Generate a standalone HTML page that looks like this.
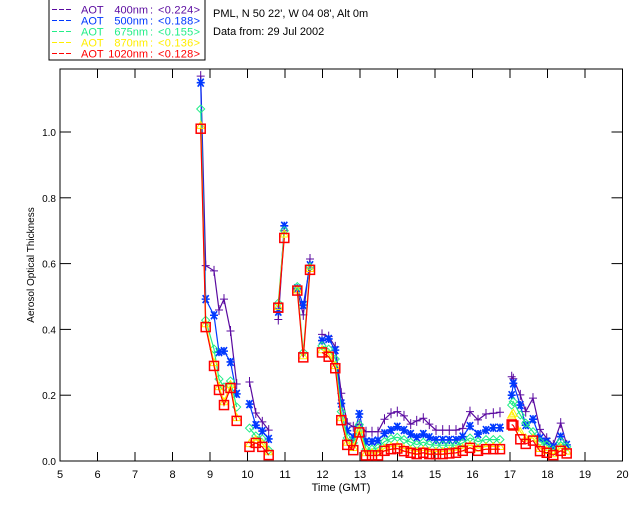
<!DOCTYPE html>
<html><head><meta charset="utf-8"><style>
html,body{margin:0;padding:0;background:#fff;}
svg{display:block;font-family:"Liberation Sans",sans-serif;}
</style></head><body>
<svg id="chart" width="640" height="512" viewBox="0 0 640 512" xmlns="http://www.w3.org/2000/svg">
<rect x="0" y="0" width="640" height="512" fill="#fff"/>
<g id="legend">
  <rect x="49" y="-1" width="156" height="61" fill="none" stroke="#000" stroke-width="1"/>
</g>
<text x="213" y="17" font-size="11">PML, N 50 22', W 04 08', Alt 0m</text>
<text x="213" y="35" font-size="11">Data from: 29 Jul 2002</text>
<g id="axes"></g>
<g id="series"></g>
<text x="341" y="491" font-size="11" text-anchor="middle">Time (GMT)</text>
<text x="0" y="0" font-size="10" text-anchor="middle" transform="translate(34,265) rotate(-90)">Aerosol Optical Thickness</text>
</svg>
<script>
const NS='http://www.w3.org/2000/svg';
const times=[8.752,8.885,9.107,9.24,9.373,9.547,9.712,null,10.053,10.221,10.395,10.565,null,
10.821,10.981,null,11.328,11.488,11.667,null,
11.987,12.165,12.341,12.501,12.661,12.821,12.981,13.16,13.32,13.48,13.653,13.827,13.995,14.173,14.352,14.512,14.688,14.848,15.027,15.205,15.381,15.56,15.739,15.933,16.147,16.36,16.555,16.733,null,
17.045,17.088,17.275,17.419,17.613,17.8,17.979,18.155,18.352,18.512];
const aot400=[1.17,0.594,0.578,0.459,0.492,0.395,0.234,null,0.240,0.146,0.119,0.094,null,
0.43,0.70,null,0.52,0.444,0.614,null,
0.385,0.378,0.347,0.206,0.115,0.104,0.112,0.089,0.089,0.089,0.127,0.145,0.150,0.137,0.112,0.122,0.130,0.112,0.094,0.094,0.094,0.094,0.099,0.150,0.125,0.143,0.145,0.148,null,
0.256,0.25,0.201,0.150,0.191,0.096,0.069,0.049,0.115,0.049];
const aot500=[1.15,0.492,0.443,0.331,0.334,0.301,0.204,null,0.173,0.109,0.091,0.067,null,
0.454,0.715,null,0.525,0.474,0.595,null,
0.366,0.371,0.337,0.175,0.092,0.072,0.143,0.059,0.059,0.062,0.084,0.094,0.104,0.094,0.082,0.072,0.082,0.072,0.064,0.064,0.064,0.064,0.074,0.106,0.082,0.094,0.101,0.101,null,
0.20,0.236,0.170,0.109,0.127,0.069,0.059,0.043,0.074,0.049];
const aot675=[1.07,0.428,0.340,0.249,0.225,0.243,0.164,null,0.100,0.076,0.067,0.033,null,
0.48,0.70,null,0.53,0.33,0.59,null,
0.35,0.34,0.31,0.15,0.07,0.055,0.11,0.036,0.036,0.04,0.059,0.068,0.072,0.065,0.057,0.05,0.057,0.05,0.048,0.048,0.048,0.048,0.055,0.07,0.059,0.065,0.065,0.065,null,
0.17,0.18,0.14,0.115,0.089,0.059,0.049,0.033,0.059,0.043];
const aot870=[1.02,0.417,0.299,0.226,0.180,0.232,0.132,null,0.053,0.065,0.053,0.028,null,
0.47,0.69,null,0.52,0.32,0.585,null,
0.338,0.325,0.29,0.132,0.057,0.041,0.095,0.025,0.025,0.025,0.039,0.044,0.046,0.038,0.033,0.029,0.033,0.029,0.029,0.029,0.031,0.033,0.039,0.048,0.039,0.044,0.044,0.044,null,
0.14,0.145,0.089,0.07,0.07,0.038,0.032,0.022,0.04,0.03];
const aot1020=[1.01,0.407,0.289,0.216,0.170,0.222,0.122,null,0.043,0.055,0.043,0.018,null,
0.466,0.678,null,0.518,0.315,0.581,null,
0.330,0.317,0.282,0.124,0.049,0.033,0.087,0.017,0.017,0.017,0.031,0.036,0.038,0.030,0.025,0.021,0.025,0.021,0.021,0.021,0.023,0.025,0.031,0.040,0.031,0.036,0.036,0.036,null,
0.111,0.108,0.066,0.052,0.062,0.030,0.025,0.018,0.031,0.023];
const xTicks=[5,6,7,8,9,10,11,12,13,14,15,16,17,18,19,20];
const yTicks=[0.0,0.2,0.4,0.6,0.8,1.0];
const yTickLabels=['0.0','0.2','0.4','0.6','0.8','1.0'];
const legendWaves=['400nm','500nm','675nm','870nm','1020nm'];
const legendMeans=['<0.224>','<0.188>','<0.155>','<0.136>','<0.128>'];

const X0=60,X1=622.5,Y0=461,YT=69;
function xs(t){return X0+(t-5)*(X1-X0)/15;}
function ys(v){return Y0-v*329;}
function mk(tag,attrs,parent){const e=document.createElementNS(NS,tag);for(const k in attrs)e.setAttribute(k,attrs[k]);parent.appendChild(e);return e;}

const axes=document.getElementById('axes');
let r=mk('rect',{x:X0,y:YT,width:X1-X0,height:Y0-YT,fill:'none',stroke:'#000','stroke-width':1},axes);


xTicks.forEach(t=>{
  const x=xs(t);
  let l=mk('line',{x1:x,y1:Y0,x2:x,y2:Y0-9,stroke:'#000'},axes);
  
  
  let l2=mk('line',{x1:x,y1:YT,x2:x,y2:YT+9,stroke:'#000'},axes);
  
  
  let tx=mk('text',{x:x,y:Y0+17,'font-size':11,'text-anchor':'middle'},axes);
  tx.textContent=String(t);
  
  
});
yTicks.forEach((v,i)=>{
  const y=ys(v);
  let l=mk('line',{x1:X0,y1:y,x2:X0+11,y2:y,stroke:'#000'},axes);
  
  
  let l2=mk('line',{x1:X1,y1:y,x2:X1-11,y2:y,stroke:'#000'},axes);
  
  
  let tx=mk('text',{x:X0-4,y:y+4,'font-size':10,'text-anchor':'end'},axes);
  tx.textContent=yTickLabels[i];
  
  
});

const colors=['#5a0aa0','#0038ff','#22ee88','#ffee00','#ff0000'];
const series=[aot400,aot500,aot675,aot870,aot1020];
const names=['aot-400nm','aot-500nm','aot-675nm','aot-870nm','aot-1020nm'];
const sg=document.getElementById('series');
function marker(g,k,x,y,c){
  let e;
  if(k===0){e=mk('path',{d:`M${x-4} ${y}H${x+4}M${x} ${y-5}V${y+5}`,stroke:c,fill:'none'},g);}
  else if(k===1){e=mk('path',{d:`M${x-4} ${y}H${x+4}M${x-3} ${y-4}L${x+3} ${y+4}M${x+3} ${y-4}L${x-3} ${y+4}M${x} ${y-4}V${y+4}`,stroke:c,'stroke-width':1.6,fill:'none'},g);}
  else if(k===2){e=mk('path',{d:`M${x} ${y-4}L${x+4} ${y}L${x} ${y+4}L${x-4} ${y}Z`,stroke:c,fill:'none'},g);}
  else if(k===3){e=mk('path',{d:`M${x} ${y-4}L${x+4} ${y+3}L${x-4} ${y+3}Z`,stroke:c,fill:'none'},g);}
  else {e=mk('rect',{x:x-4.5,y:y-4.5,width:9,height:9,stroke:c,fill:'none','stroke-width':1.5},g);}
  
  
}
series.forEach((vals,k)=>{
  const g=mk('g',{},sg);
  
  
  let d='',pen=false;
  for(let i=0;i<times.length;i++){
    if(times[i]===null||vals[i]===null){pen=false;continue;}
    d+=(pen?'L':'M')+xs(times[i]).toFixed(1)+' '+ys(vals[i]).toFixed(1);pen=true;
  }
  const p=mk('path',{d:d,stroke:colors[k],fill:'none','stroke-width':1.2},g);
  
  
  for(let i=0;i<times.length;i++){
    if(times[i]===null||vals[i]===null)continue;
    marker(g,k,xs(times[i]),ys(vals[i]),colors[k]);
  }
});

const lg=document.getElementById('legend');
legendWaves.forEach((n,i)=>{
  const y=9.5+i*11;
  let l=mk('line',{x1:52,y1:y,x2:73,y2:y,stroke:colors[i],'stroke-dasharray':'5 2'},lg);
  
  
  const g=mk('g',{fill:colors[i],'font-size':11},lg);
  
  
  let a=mk('text',{x:81,y:y+4},g);a.textContent='AOT';
  let b=mk('text',{x:148,y:y+4,'text-anchor':'end'},g);b.textContent=n;
  let c=mk('text',{x:150,y:y+4},g);c.textContent=':';
  let m=mk('text',{x:158,y:y+4,textLength:42,lengthAdjust:'spacing'},g);m.textContent=legendMeans[i];
});
</script>
</body></html>
